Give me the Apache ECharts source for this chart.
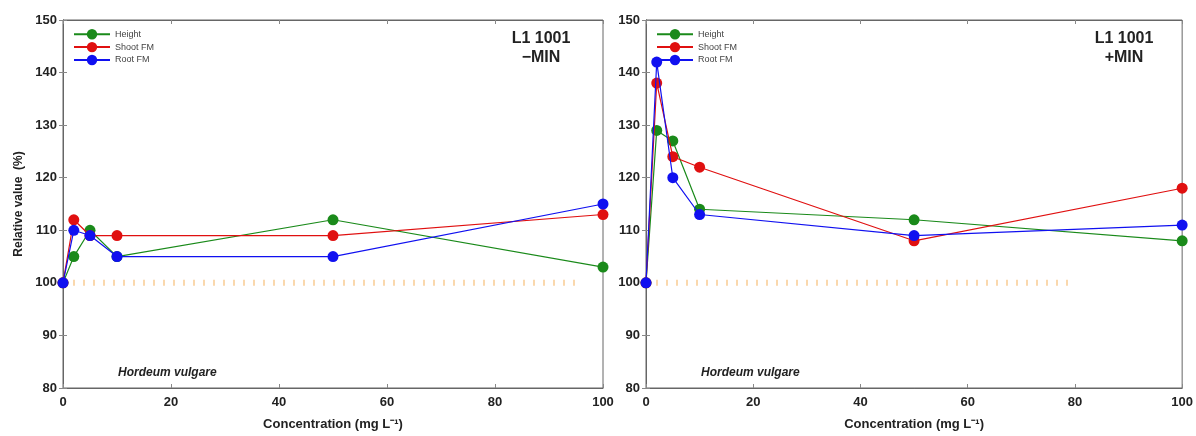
<!DOCTYPE html>
<html><head><meta charset="utf-8">
<script src="https://cdn.jsdelivr.net/npm/echarts@6/dist/echarts.min.js"></script>
<style>html,body{margin:0;padding:0;background:#fff}#c{width:1196px;height:436px}</style>
</head><body><div id="c"></div>
<script>
const conc = [0, 2, 5, 10, 50, 100];
const seriesNames = ['Height', 'Shoot FM', 'Root FM'];
const colors = ['#1a8a1a', '#e01010', '#1010f0'];
const minusHeight = [100, 105, 110, 105, 112, 103];
const minusShoot  = [100, 112, 109, 109, 109, 113];
const minusRoot   = [100, 110, 109, 105, 105, 115];
const plusHeight  = [100, 129, 127, 114, 112, 108];
const plusShoot   = [100, 138, 124, 122, 108, 118];
const plusRoot    = [100, 142, 120, 113, 109, 111];
const refMinus = [[0, 100], [95, 100]];
const refPlus  = [[0, 100], [79, 100]];
const xTicks = [0, 20, 40, 60, 80, 100];
const yTicks = [80, 90, 100, 110, 120, 130, 140, 150];
const panelTitles = ['L1 1001\n\u2212MIN', 'L1 1001\n+MIN'];
const speciesLabel = 'Hordeum vulgare';
const xName = 'Concentration (mg L\u207B\u00B9)';
const yName = 'Relative value  (%)';

const font = 'Liberation Sans, Arial, sans-serif';
const pair = (xs, ys) => xs.map((x, i) => [x, ys[i]]);
const panels = [[minusHeight, minusShoot, minusRoot], [plusHeight, plusShoot, plusRoot]];
const refs = [refMinus, refPlus];

const grids = [
  {left: 63, top: 20, width: 540, height: 373, show: true, borderColor: '#666', borderWidth: 1},
  {left: 646, top: 20, width: 540, height: 373, show: true, borderColor: '#666', borderWidth: 1}
];
const xAxes = [], yAxes = [], series = [], legends = [], graphics = [];
[0, 1].forEach(g => {
  const axLine = {lineStyle: {color: '#666', width: 1}};
  xAxes.push({type: 'value', gridIndex: g, min: xTicks[0], max: xTicks[xTicks.length - 1], interval: 20,
    axisLine: axLine, axisTick: {inside: true, length: 4, lineStyle: {color: '#888'}},
    splitLine: {show: false},
    axisLabel: {fontFamily: font, fontWeight: 'bold', fontSize: 13, color: '#222', margin: 8},
    name: xName, nameLocation: 'middle', nameGap: 30,
    nameTextStyle: {fontFamily: font, fontWeight: 'bold', fontSize: 13, color: '#222'}});
  xAxes.push({type: 'value', gridIndex: g, position: 'top', min: 0, max: 100, interval: 20,
    axisLine: axLine, axisTick: {inside: true, length: 4, lineStyle: {color: '#888'}},
    axisLabel: {show: false}, splitLine: {show: false}});
  yAxes.push({type: 'value', gridIndex: g, min: yTicks[0], max: yTicks[yTicks.length - 1], interval: 10,
    axisLine: {show: true, lineStyle: {color: '#666', width: 1}},
    axisTick: {inside: true, length: 4, lineStyle: {color: '#888'}},
    splitLine: {show: false},
    axisLabel: {fontFamily: font, fontWeight: 'bold', fontSize: 13, color: '#222', margin: 6},
    name: g === 0 ? yName : '', nameLocation: 'middle', nameGap: 38,
    nameTextStyle: {fontFamily: font, fontWeight: 'bold', fontSize: 12, color: '#222'}});
  yAxes.push({type: 'value', gridIndex: g, position: 'right', min: 80, max: 150, interval: 10,
    axisLine: {show: true, lineStyle: {color: '#666', width: 1}},
    axisTick: {inside: true, length: 4, lineStyle: {color: '#888'}},
    axisLabel: {show: false}, splitLine: {show: false}});
  series.push({type: 'line', name: 'ref', xAxisIndex: g * 2, yAxisIndex: g * 2, data: refs[g],
    symbol: 'none', silent: true, z: 1,
    lineStyle: {color: '#fad8ad', width: 6, type: [2, 8]}});
  panels[g].forEach((vals, i) => {
    series.push({type: 'line', name: seriesNames[i], xAxisIndex: g * 2, yAxisIndex: g * 2,
      data: pair(conc, vals), symbol: 'circle', symbolSize: 11, z: 3 + i,
      itemStyle: {color: colors[i]}, lineStyle: {color: colors[i], width: 1.2}});
  });
  legends.push({data: seriesNames, orient: 'vertical', left: grids[g].left + 5, top: 24,
    itemWidth: 36, itemHeight: 13, itemGap: 2.5,
    textStyle: {fontFamily: font, fontSize: 9, color: '#444'}});
  graphics.push({type: 'text', x: grids[g].left + 478, y: 29,
    style: {text: panelTitles[g], fontFamily: font, fontWeight: 'bold', fontSize: 16,
      fill: '#222', align: 'center', lineHeight: 19}});
  graphics.push({type: 'text', left: grids[g].left + 55, top: 367,
    style: {text: speciesLabel, fontFamily: font, fontStyle: 'italic', fontWeight: 'bold',
      fontSize: 12, fill: '#222'}});
});

const chart = echarts.init(document.getElementById('c'), null, {renderer: 'canvas'});
chart.setOption({
  animation: false,
  backgroundColor: '#fff',
  grid: grids, xAxis: xAxes, yAxis: yAxes, series: series, legend: legends, graphic: graphics
});
</script></body></html>
